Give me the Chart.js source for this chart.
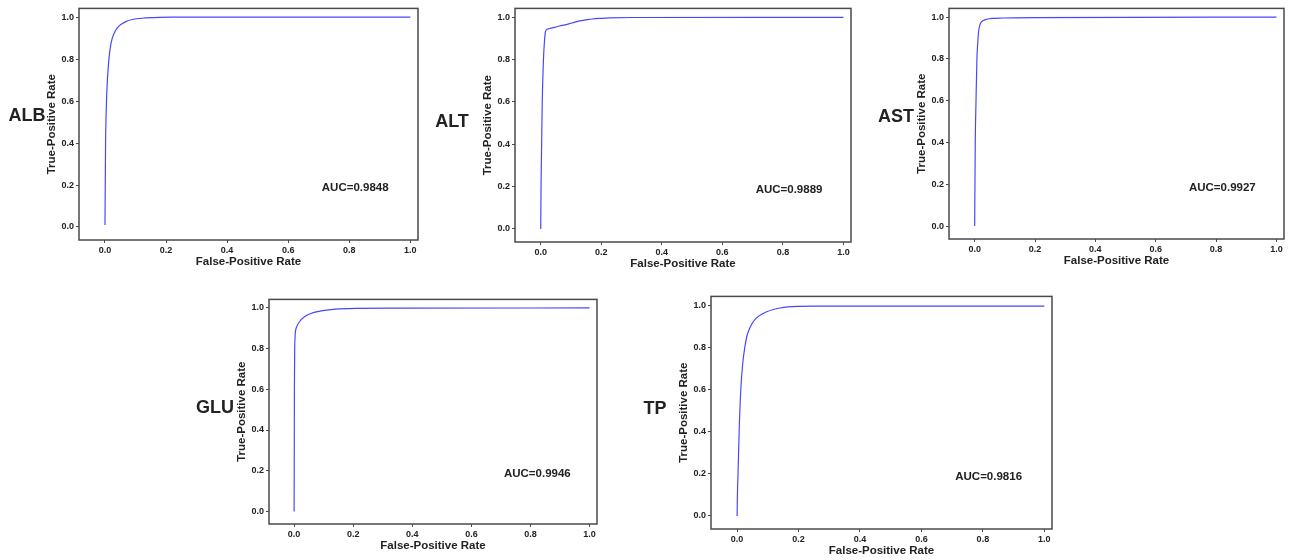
<!DOCTYPE html>
<html>
<head>
<meta charset="utf-8">
<script src="https://cdn.jsdelivr.net/npm/chart.js@4.4.1/dist/chart.umd.min.js"></script>
<style>
  html, body { margin: 0; padding: 0; background: #fff; }
  body { width: 1290px; height: 560px; position: relative; overflow: hidden; }
  canvas { position: absolute; }
</style>
</head>
<body>
<script>
// ROC curves (false-positive rate / true-positive rate)
const albFpr = [0, 0.001, 0.002, 0.0035, 0.005, 0.008, 0.013, 0.018, 0.024, 0.032, 0.042, 0.055, 0.07, 0.09, 0.12, 0.16, 0.22, 0.35, 1.0];
const albTpr = [0.01, 0.2, 0.4, 0.52, 0.6, 0.7, 0.8, 0.86, 0.9, 0.93, 0.952, 0.968, 0.98, 0.989, 0.995, 0.998, 1.0, 1.0, 1.0];

const altFpr = [0, 0.001, 0.003, 0.005, 0.009, 0.012, 0.016, 0.02, 0.03, 0.045, 0.062, 0.08, 0.095, 0.11, 0.128, 0.15, 0.17, 0.2, 0.226, 0.3, 1.0];
const altTpr = [0, 0.2, 0.4, 0.6, 0.8, 0.88, 0.934, 0.942, 0.947, 0.952, 0.959, 0.964, 0.97, 0.976, 0.983, 0.988, 0.992, 0.995, 0.997, 0.999, 1.0];

const astFpr = [0, 0.001, 0.002, 0.0045, 0.0075, 0.01, 0.013, 0.0175, 0.022, 0.03, 0.04, 0.058, 0.09, 0.2, 1.0];
const astTpr = [0, 0.2, 0.4, 0.6, 0.8, 0.87, 0.93, 0.963, 0.976, 0.985, 0.99, 0.994, 0.996, 0.998, 1.0];

const gluFpr = [0, 0.0005, 0.001, 0.002, 0.003, 0.0045, 0.009, 0.018, 0.035, 0.057, 0.075, 0.097, 0.125, 0.153, 0.21, 0.35, 1.0];
const gluTpr = [0, 0.3, 0.6, 0.8, 0.85, 0.884, 0.908, 0.932, 0.957, 0.973, 0.981, 0.987, 0.992, 0.995, 0.998, 0.999, 1.0];

const tpFpr = [0, 0.001, 0.003, 0.0066, 0.012, 0.018, 0.025, 0.033, 0.044, 0.053, 0.063, 0.08, 0.096, 0.118, 0.14, 0.165, 0.195, 0.25, 1.0];
const tpTpr = [0, 0.1, 0.2, 0.4, 0.6, 0.72, 0.8, 0.86, 0.9, 0.923, 0.94, 0.957, 0.969, 0.98, 0.987, 0.992, 0.995, 0.996, 0.996];

const markers = ["ALB", "ALT", "AST", "GLU", "TP"];
const aucValues = ["0.9848", "0.9889", "0.9927", "0.9946", "0.9816"];
const xTicks = [0, 0.2, 0.4, 0.6, 0.8, 1.0];
const yTicks = [0, 0.2, 0.4, 0.6, 0.8, 1.0];

const FONT = "'Liberation Sans', Arial, sans-serif";
const TEXT = "#222";

// plot box of every panel in page pixels: left, top, right, bottom + marker position
const panels = [
  { fpr: albFpr, tpr: albTpr, box: [79, 5, 418, 240],   mark: [27, 116] },
  { fpr: altFpr, tpr: altTpr, box: [515, 5, 851, 242],  mark: [452, 122] },
  { fpr: astFpr, tpr: astTpr, box: [949, 5, 1284, 239], mark: [896, 117] },
  { fpr: gluFpr, tpr: gluTpr, box: [269, 296, 597, 524], mark: [215, 408] },
  { fpr: tpFpr,  tpr: tpTpr,  box: [711, 293, 1052, 529], mark: [655, 409] }
];

const LEFT = 80, Y_AXIS_W = 34, X_AXIS_H = 34, PAD = 4;

const framePlugin = {
  id: "frame",
  afterDraw(chart) {
    const { ctx, chartArea: a } = chart;
    const o = chart.options.plugins.frame;
    ctx.save();
    ctx.strokeStyle = "#4a4a4a";
    ctx.lineWidth = 1.5;
    ctx.strokeRect(a.left, a.top, a.right - a.left, a.bottom - a.top);

    // AUC annotation, placed in data coordinates
    ctx.fillStyle = TEXT;
    ctx.font = "bold 11.5px " + FONT;
    ctx.textAlign = "left";
    ctx.textBaseline = "middle";
    ctx.fillText("AUC=" + o.auc, chart.scales.x.getPixelForValue(0.71), chart.scales.y.getPixelForValue(0.185));

    // panel marker to the left of the axis title
    ctx.font = "bold 18px " + FONT;
    ctx.textAlign = "center";
    ctx.fillText(o.marker, o.markX, o.markY);
    ctx.restore();
  }
};

panels.forEach((p, i) => {
  const [L, T, R, B] = p.box;
  const canvas = document.createElement("canvas");
  const left = L - LEFT, top = T - PAD;
  const w = R - left + PAD, h = B - top + X_AXIS_H;
  canvas.width = w; canvas.height = h;
  canvas.style.left = left + "px";
  canvas.style.top = top + "px";
  canvas.style.width = w + "px";
  canvas.style.height = h + "px";
  document.body.appendChild(canvas);

  const points = p.fpr.map((x, k) => ({ x, y: p.tpr[k] }));

  new Chart(canvas.getContext("2d"), {
    type: "line",
    data: {
      datasets: [{
        data: points,
        borderColor: "#4747ff",
        borderWidth: 1.2,
        pointRadius: 0,
        fill: false,
        cubicInterpolationMode: "monotone"
      }]
    },
    options: {
      responsive: false,
      animation: false,
      devicePixelRatio: 1,
      layout: { padding: { left: LEFT - Y_AXIS_W, top: PAD, right: PAD, bottom: 0 } },
      plugins: {
        legend: { display: false },
        tooltip: { enabled: false },
        frame: { auc: aucValues[i], marker: markers[i], markX: p.mark[0] - left, markY: p.mark[1] - top }
      },
      scales: {
        x: {
          type: "linear",
          min: -0.085, max: 1.025,
          afterFit: s => { s.height = X_AXIS_H; },
          afterBuildTicks: s => { s.ticks = xTicks.map(v => ({ value: v })); },
          border: { display: false },
          grid: { drawOnChartArea: false, drawTicks: true, tickLength: 3, color: "#4a4a4a", lineWidth: 1 },
          ticks: {
            padding: 2, color: TEXT, maxRotation: 0,
            font: { family: FONT, size: 9, weight: "bold" },
            callback: v => v.toFixed(1)
          },
          title: {
            display: true, text: "False-Positive Rate", color: TEXT,
            font: { family: FONT, size: 11.5, weight: "bold" },
            padding: { top: 0, bottom: 5 }
          }
        },
        y: {
          type: "linear",
          min: -0.062, max: 1.042,
          afterFit: s => { s.width = Y_AXIS_W; },
          afterBuildTicks: s => { s.ticks = yTicks.map(v => ({ value: v })); },
          border: { display: false },
          grid: { drawOnChartArea: false, drawTicks: true, tickLength: 3, color: "#4a4a4a", lineWidth: 1 },
          ticks: {
            padding: 2, color: TEXT,
            font: { family: FONT, size: 9, weight: "bold" },
            callback: v => v.toFixed(1)
          },
          title: {
            display: true, text: "True-Positive Rate", color: TEXT,
            font: { family: FONT, size: 11.5, weight: "bold" },
            padding: { top: 0, bottom: 0 }
          }
        }
      }
    },
    plugins: [framePlugin]
  });
});
</script>
</body>
</html>
